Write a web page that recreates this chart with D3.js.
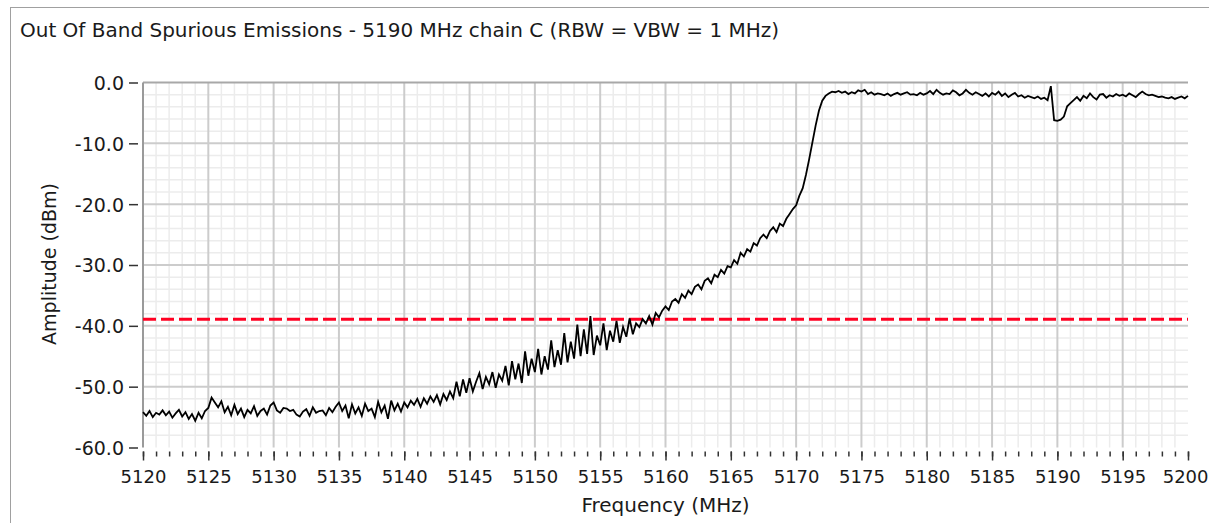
<!DOCTYPE html>
<html>
<head>
<meta charset="utf-8">
<script src="https://cdn.jsdelivr.net/npm/d3@7"></script>
<style>
  html, body { margin: 0; padding: 0; background: #fff; }
  svg { display: block; }
  text { font-family: "DejaVu Sans", sans-serif; fill: #1a1a1a; }
</style>
</head>
<body>
<svg id="chart" width="1209" height="523"></svg>
<script>
// ---------------- DATA ----------------
const titleText = "Out Of Band Spurious Emissions - 5190 MHz chain C (RBW = VBW = 1 MHz)";
const xLabel = "Frequency (MHz)";
const yLabel = "Amplitude (dBm)";
const freqStart = 5120;   // MHz
const freqStep = 0.25;    // MHz between samples
const xTicks = [5120,5125,5130,5135,5140,5145,5150,5155,5160,5165,5170,5175,5180,5185,5190,5195,5200];
const yTicks = [0,-10,-20,-30,-40,-50,-60];
const limitLine = -38.9;  // dBm
// amplitude trace (dBm), one value per 0.25 MHz from 5120 to 5200
const amplitude = [
  -54.2,-54.8,-54.0,-55.0,-54.3,-54.6,-53.9,-54.7,-54.1,-55.1,-54.4,-53.8,-54.9,-54.2,-55.3,-54.5,-55.6,-54.3,-55.2,-54.0,
  -53.5,-51.8,-52.6,-53.4,-52.4,-54.2,-53.3,-54.7,-53.0,-54.5,-53.6,-55.0,-53.8,-54.4,-53.2,-54.8,-54.0,-53.6,-54.6,-53.1,
  -52.6,-53.9,-54.3,-53.5,-53.6,-54.0,-53.8,-54.6,-54.9,-54.1,-53.7,-54.8,-53.4,-54.3,-54.0,-53.9,-54.7,-53.5,-54.2,-53.3,
  -52.6,-54.0,-53.1,-55.2,-52.9,-54.4,-53.4,-54.8,-52.8,-54.0,-53.6,-55.0,-52.5,-54.2,-53.1,-55.3,-52.3,-53.9,-52.8,-54.1,
  -52.6,-53.4,-52.3,-53.0,-52.0,-53.3,-51.9,-52.8,-51.6,-52.5,-51.4,-52.9,-51.2,-52.2,-50.8,-51.9,-49.2,-51.6,-48.8,-51.0,
  -48.6,-50.8,-49.2,-47.8,-50.4,-48.4,-49.6,-47.6,-50.2,-48.0,-49.0,-46.6,-49.8,-45.8,-48.8,-46.2,-49.4,-44.2,-48.2,-45.4,
  -47.6,-43.8,-48.0,-45.0,-47.2,-42.4,-46.8,-44.0,-46.4,-41.2,-46.0,-42.6,-45.4,-39.8,-45.0,-40.6,-44.6,-38.4,-44.8,-41.6,
  -43.2,-39.6,-44.0,-40.8,-42.6,-39.2,-42.8,-40.2,-41.8,-38.8,-41.4,-39.6,-40.2,-38.9,-39.6,-38.4,-39.8,-37.9,-38.6,-37.5,
  -36.8,-37.4,-36.0,-35.6,-36.2,-34.8,-35.4,-34.2,-34.8,-33.6,-33.2,-34.0,-32.6,-32.2,-33.0,-31.6,-32.0,-30.8,-31.4,-30.2,
  -30.4,-29.2,-29.8,-28.0,-28.6,-27.4,-27.8,-26.4,-26.8,-25.6,-25.0,-25.6,-24.4,-23.8,-24.6,-23.2,-23.6,-22.4,-21.6,-20.8,
  -20.2,-18.6,-17.4,-15.2,-12.6,-9.8,-7.0,-4.6,-3.0,-2.2,-1.8,-1.5,-1.6,-1.4,-1.7,-1.5,-1.9,-1.6,-1.8,-1.3,
  -1.5,-1.2,-1.9,-1.6,-2.0,-1.8,-1.9,-2.1,-1.8,-2.2,-1.9,-1.7,-2.0,-1.8,-1.6,-2.0,-1.9,-2.1,-1.7,-2.0,
  -1.8,-1.4,-1.9,-1.2,-1.7,-2.0,-1.8,-1.9,-1.3,-1.6,-2.1,-1.8,-1.2,-1.7,-2.0,-1.6,-1.9,-2.2,-1.8,-2.3,
  -1.7,-2.0,-1.5,-2.2,-1.8,-2.4,-2.0,-1.7,-2.3,-2.1,-2.5,-2.2,-2.4,-2.6,-2.3,-2.7,-2.5,-2.9,-0.6,-6.2,
  -6.3,-6.1,-5.6,-3.9,-3.4,-2.9,-2.4,-3.0,-2.2,-2.6,-1.8,-2.4,-2.8,-2.0,-1.9,-2.5,-2.1,-2.3,-1.9,-2.2,
  -2.0,-2.3,-1.8,-2.1,-2.4,-1.9,-1.5,-1.9,-2.1,-2.0,-2.2,-2.4,-2.3,-2.5,-2.6,-2.4,-2.7,-2.5,-2.3,-2.6,
  -2.2
];

// ---------------- CHART ----------------
const svg = d3.select("#chart");
const pL = 143, pR = 1188, pT = 82.5, pB = 447.5;
const x = d3.scaleLinear().domain([5120, 5200]).range([pL, pR]);
const y = d3.scaleLinear().domain([-60, 0]).range([pB, pT]);

// outer frame
svg.append("rect").attr("x", 10.5).attr("y", 7.5).attr("width", 1300).attr("height", 600)
  .attr("fill", "#fff").attr("stroke", "#a0a0a0").attr("stroke-width", 1);

// title
svg.append("text").attr("x", 20).attr("y", 37).attr("font-size", 20).text(titleText);

// minor grid
const g = svg.append("g");
const minorX = d3.range(5121, 5200, 1).filter(v => (v - 5120) % 5 !== 0);
const minorY = d3.range(-58, 0, 2).filter(v => v % 10 !== 0);
g.selectAll(".mx").data(minorX).join("line")
  .attr("x1", d => x(d)).attr("x2", d => x(d)).attr("y1", pT).attr("y2", pB)
  .attr("stroke", "#ececec").attr("stroke-width", 1.5);
g.selectAll(".my").data(minorY).join("line")
  .attr("x1", pL).attr("x2", pR).attr("y1", d => y(d)).attr("y2", d => y(d))
  .attr("stroke", "#ececec").attr("stroke-width", 1.5);
// major grid
g.selectAll(".gx").data(xTicks.filter(v => v > 5120 && v < 5200)).join("line")
  .attr("x1", d => x(d)).attr("x2", d => x(d)).attr("y1", pT).attr("y2", pB)
  .attr("stroke", "#cccccc").attr("stroke-width", 2);
g.selectAll(".gy").data(yTicks.filter(v => v < 0 && v > -60)).join("line")
  .attr("x1", pL).attr("x2", pR).attr("y1", d => y(d)).attr("y2", d => y(d))
  .attr("stroke", "#cccccc").attr("stroke-width", 2);
// top border
g.append("line").attr("x1", pL).attr("x2", pR).attr("y1", pT).attr("y2", pT)
  .attr("stroke", "#a8a8a8").attr("stroke-width", 2);
// left axis line
g.append("line").attr("x1", pL).attr("x2", pL).attr("y1", pT).attr("y2", pB)
  .attr("stroke", "#9a9a9a").attr("stroke-width", 2);

// y axis ticks & labels
const yAxis = d3.axisLeft(y).tickValues(yTicks).tickSize(9).tickSizeOuter(0).tickPadding(5)
  .tickFormat(d => d3.format(".1f")(d).replace("\u2212", "-"));
const ya = svg.append("g").attr("transform", `translate(${pL - 5},0)`).call(yAxis);
ya.select(".domain").remove();
ya.selectAll("line").attr("stroke", "#333").attr("stroke-width", 1.5);
ya.selectAll("text").attr("font-size", 19).attr("font-family", "DejaVu Sans").attr("fill", "#1a1a1a")
  .attr("dy", "0.36em");

// x axis minor ticks
const xMinorAxis = d3.axisBottom(x).tickValues(d3.range(5120, 5201, 1)).tickSize(5).tickSizeOuter(0).tickFormat("");
const xm = svg.append("g").attr("transform", `translate(0,${pB + 4})`).call(xMinorAxis);
xm.select(".domain").remove();
xm.selectAll("line").attr("stroke", "#333").attr("stroke-width", 1.5);
// x axis major ticks & labels
const xAxis = d3.axisBottom(x).tickValues(xTicks).tickSize(9).tickSizeOuter(0).tickPadding(10)
  .tickFormat(d3.format("d"));
const xa = svg.append("g").attr("transform", `translate(0,${pB + 4})`).call(xAxis);
xa.select(".domain").remove();
xa.selectAll("line").attr("stroke", "#333").attr("stroke-width", 1.5);
xa.selectAll("text").attr("font-size", 18).attr("font-family", "DejaVu Sans").attr("fill", "#1a1a1a");
// keep the last label inside the window
xa.selectAll("text").filter(d => d === 5200).attr("text-anchor", "end").attr("x", 20);

// axis titles
svg.append("text").attr("x", (pL + pR) / 2).attr("y", 512).attr("text-anchor", "middle")
  .attr("font-size", 20).text(xLabel);
svg.append("text").attr("transform", "translate(56,264) rotate(-90)").attr("text-anchor", "middle")
  .attr("font-size", 19).text(yLabel);

// limit line
svg.append("line").attr("x1", pL).attr("x2", pR).attr("y1", y(limitLine)).attr("y2", y(limitLine))
  .attr("stroke", "#ff0022").attr("stroke-width", 3).attr("stroke-dasharray", "13,5");

// trace
const line = d3.line().x((d, i) => x(freqStart + i * freqStep)).y(d => y(d));
svg.append("path").datum(amplitude).attr("d", line)
  .attr("fill", "none").attr("stroke", "#000").attr("stroke-width", 1.8).attr("stroke-linejoin", "miter");
</script>
</body>
</html>
